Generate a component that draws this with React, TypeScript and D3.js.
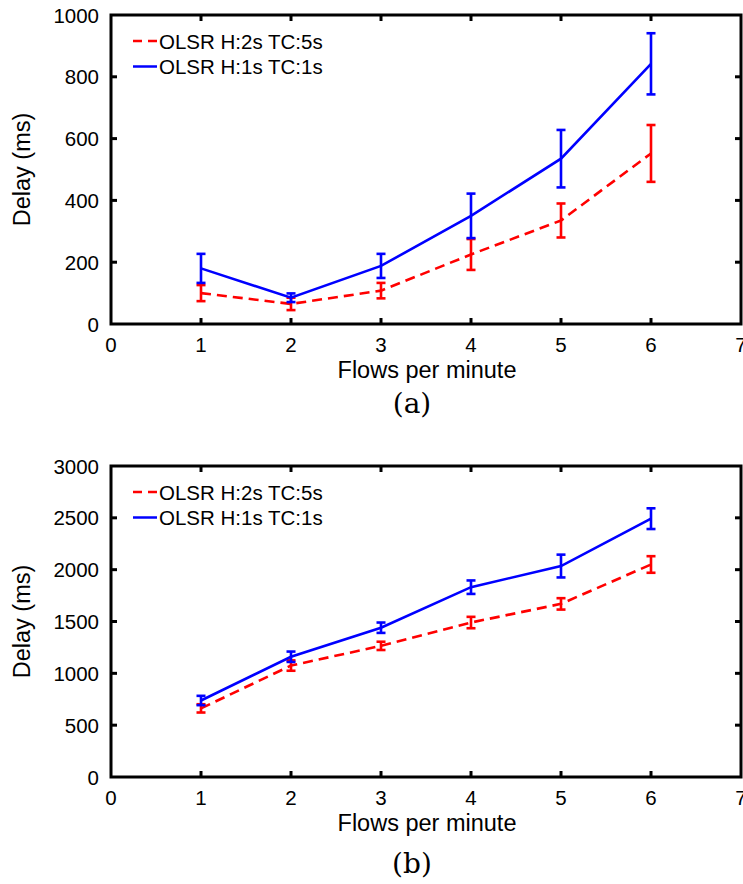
import React from "react";
import * as d3 from "d3";

const flows = [1, 2, 3, 4, 5, 6];
const xTicks = [0, 1, 2, 3, 4, 5, 6, 7];

const seriesNames = ["OLSR H:2s TC:5s", "OLSR H:1s TC:1s"];

// Panel (a)
const aRedMean = [100, 65, 108, 225, 335, 552];
const aRedErr = [26, 20, 25, 50, 55, 92];
const aBlueMean = [180, 85, 188, 350, 535, 842];
const aBlueErr = [47, 14, 39, 72, 93, 99];
const aYTicks = [0, 200, 400, 600, 800, 1000];

// Panel (b)
const bRedMean = [662, 1075, 1265, 1490, 1670, 2050];
const bRedErr = [40, 50, 40, 55, 55, 80];
const bBlueMean = [738, 1160, 1440, 1831, 2035, 2492];
const bBlueErr = [45, 50, 50, 65, 110, 100];
const bYTicks = [0, 500, 1000, 1500, 2000, 2500, 3000];

const FONT = "'Liberation Sans', Arial, Helvetica, sans-serif";

type PanelProps = {
  top: number;
  bottom: number;
  yMax: number;
  yTicks: number[];
  red: number[];
  redErr: number[];
  blue: number[];
  blueErr: number[];
  label: string;
  labelY: number;
};

function Panel(p: PanelProps) {
  const x = d3.scaleLinear().domain([0, 7]).range([111, 741]);
  const y = d3.scaleLinear().domain([0, p.yMax]).range([p.bottom, p.top]);
  const line = d3
    .line<number>()
    .x((_, i) => x(flows[i]))
    .y((d) => y(d));
  const tick = 6;
  const series = [
    { mean: p.red, err: p.redErr, color: "#ff0000", dash: "10,6" },
    { mean: p.blue, err: p.blueErr, color: "#0000ff", dash: undefined },
  ];
  const midY = (p.top + p.bottom) / 2;
  return (
    <g>
      {series.map((s, si) => (
        <g key={si}>
          <path
            d={line(s.mean) || ""}
            fill="none"
            stroke={s.color}
            strokeWidth={2.6}
            strokeDasharray={s.dash}
          />
          {s.mean.map((m, i) => {
            const cx = x(flows[i]);
            const y1 = y(m + s.err[i]);
            const y2 = y(m - s.err[i]);
            return (
              <g key={i} stroke={s.color} strokeWidth={2.6}>
                <line x1={cx} x2={cx} y1={y1} y2={y2} />
                <line x1={cx - 4.5} x2={cx + 4.5} y1={y1} y2={y1} />
                <line x1={cx - 4.5} x2={cx + 4.5} y1={y2} y2={y2} />
              </g>
            );
          })}
        </g>
      ))}
      {/* frame */}
      <rect
        x={x(0)}
        y={p.top}
        width={x(7) - x(0)}
        height={p.bottom - p.top}
        fill="none"
        stroke="#000"
        strokeWidth={3}
      />
      {xTicks.slice(1, -1).map((t) => (
        <g key={"xt" + t} stroke="#000" strokeWidth={3}>
          <line x1={x(t)} x2={x(t)} y1={p.bottom} y2={p.bottom - tick} />
          <line x1={x(t)} x2={x(t)} y1={p.top} y2={p.top + tick} />
        </g>
      ))}
      {p.yTicks.slice(1, -1).map((t) => (
        <g key={"yt" + t} stroke="#000" strokeWidth={3}>
          <line x1={x(0)} x2={x(0) + tick} y1={y(t)} y2={y(t)} />
          <line x1={x(7)} x2={x(7) - tick} y1={y(t)} y2={y(t)} />
        </g>
      ))}
      {xTicks.map((t) => (
        <text
          key={"xl" + t}
          x={x(t)}
          y={p.bottom + 28}
          textAnchor="middle"
          fontFamily={FONT}
          fontSize={20.5}
          fill="#000"
        >
          {t}
        </text>
      ))}
      {p.yTicks.map((t) => (
        <text
          key={"yl" + t}
          x={x(0) - 12}
          y={y(t) + 7.5}
          textAnchor="end"
          fontFamily={FONT}
          fontSize={20.5}
          fill="#000"
        >
          {t}
        </text>
      ))}
      <text
        x={427}
        y={p.bottom + 54}
        textAnchor="middle"
        fontFamily={FONT}
        fontSize={23.5}
        fill="#000"
      >
        Flows per minute
      </text>
      <text
        transform={`translate(30,${midY}) rotate(-90)`}
        textAnchor="middle"
        fontFamily={FONT}
        fontSize={23.5}
        fill="#000"
      >
        Delay (ms)
      </text>
      {/* legend */}
      {series.map((s, si) => {
        const ly = p.top + 26 + si * 25.5;
        return (
          <g key={"lg" + si}>
            <line
              x1={133}
              x2={157}
              y1={ly}
              y2={ly}
              stroke={s.color}
              strokeWidth={2.5}
              strokeDasharray={s.dash ? "9,6" : undefined}
            />
            <text
              x={159}
              y={ly + 7.5}
              fontFamily={FONT}
              fontSize={20.5}
              fill="#000"
            >
              {seriesNames[si]}
            </text>
          </g>
        );
      })}
      <text
        x={412}
        y={p.labelY}
        textAnchor="middle"
        fontFamily="'DejaVu Serif', 'Liberation Serif', serif"
        fontSize={28}
        fill="#000"
      >
        {p.label}
      </text>
    </g>
  );
}

export default function App() {
  return (
    <svg
      width={743}
      height={884}
      style={{ position: "absolute", left: 0, top: 0, background: "#fff" }}
    >
      <rect width={743} height={884} fill="#fff" />
      <Panel
        top={15}
        bottom={324}
        yMax={1000}
        yTicks={aYTicks}
        red={aRedMean}
        redErr={aRedErr}
        blue={aBlueMean}
        blueErr={aBlueErr}
        label="(a)"
        labelY={413}
      />
      <Panel
        top={466}
        bottom={777}
        yMax={3000}
        yTicks={bYTicks}
        red={bRedMean}
        redErr={bRedErr}
        blue={bBlueMean}
        blueErr={bBlueErr}
        label="(b)"
        labelY={873}
      />
    </svg>
  );
}
